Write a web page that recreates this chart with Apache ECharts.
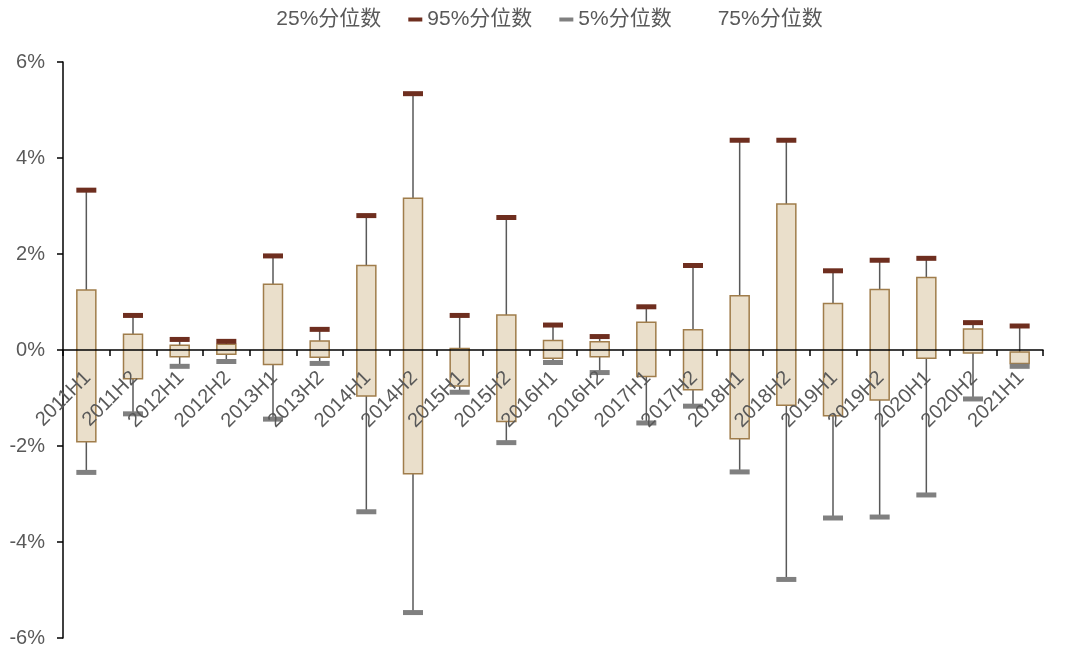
<!DOCTYPE html>
<html>
<head>
<meta charset="utf-8">
<script src="https://cdn.jsdelivr.net/npm/echarts@6/dist/echarts.min.js"></script>
<style>
html,body{margin:0;padding:0;background:#fff;}
#chart{width:1080px;height:659px;}
</style>
</head>
<body>
<div id="chart"></div>
<script>
const categories = ['2011H1','2011H2','2012H1','2012H2','2013H1','2013H2','2014H1','2014H2','2015H1','2015H2','2016H1','2016H2','2017H1','2017H2','2018H1','2018H2','2019H1','2019H2','2020H1','2020H2','2021H1'];
const p25 = [-1.91,-0.60,-0.14,-0.09,-0.30,-0.15,-0.96,-2.58,-0.75,-1.49,-0.17,-0.14,-0.55,-0.83,-1.85,-1.15,-1.37,-1.04,-0.17,-0.06,-0.28];
const p95 = [3.33,0.72,0.22,0.18,1.96,0.43,2.80,5.34,0.72,2.76,0.52,0.28,0.90,1.76,4.37,4.37,1.65,1.87,1.91,0.57,0.50];
const p5  = [-2.55,-1.33,-0.34,-0.24,-1.44,-0.28,-3.37,-5.47,-0.88,-1.93,-0.26,-0.47,-1.52,-1.17,-2.54,-4.78,-3.50,-3.48,-3.02,-1.02,-0.34];
const p75 = [1.25,0.33,0.10,0.12,1.37,0.19,1.76,3.16,0.03,0.73,0.20,0.17,0.58,0.42,1.13,3.04,0.97,1.26,1.51,0.44,-0.04];
const yTicks = {min:-6, max:6, interval:2};

const txt = '#595959';
const chart = echarts.init(document.getElementById('chart'));

const whiskerData = categories.map((c,i)=>[i, p5[i], p95[i]]);
const boxData = categories.map((c,i)=>[i, p25[i], p75[i]]);

chart.setOption({
  animation:false,
  textStyle:{fontFamily:'Arial, "Liberation Sans", "Noto Sans CJK SC", sans-serif'},
  legend:{
    top:4, left:'center', itemGap:27, itemWidth:14, itemHeight:4,
    textStyle:{color:txt, fontSize:21},
    data:[
      {name:'25%分位数', icon:'rect', itemStyle:{opacity:0}},
      {name:'95%分位数', icon:'rect'},
      {name:'5%分位数', icon:'rect'},
      {name:'75%分位数', icon:'rect', itemStyle:{opacity:0}}
    ]
  },
  grid:{left:63, top:62, width:980, height:576, outerBoundsMode:'none', containLabel:false},
  xAxis:{
    type:'category', data:categories,
    offset:-288,
    axisLine:{onZero:false, lineStyle:{color:'#000', width:1.5}},
    axisTick:{show:true, length:6, lineStyle:{color:'#000', width:1.5}},
    axisLabel:{rotate:45, interval:0, color:txt, fontSize:20, margin:12, align:'right', verticalAlign:'top', padding:[0,8,0,0], hideOverlap:false},
    z:5
  },
  yAxis:{
    type:'value', min:yTicks.min, max:yTicks.max, interval:yTicks.interval,
    axisLine:{show:true, lineStyle:{color:'#000', width:1.5}},
    axisTick:{show:true, length:6, lineStyle:{color:'#000', width:1.5}},
    splitLine:{show:false},
    axisLabel:{color:txt, fontSize:20, formatter:'{value}%', margin:18}
  },
  series:[
    {
      name:'whisker', type:'custom', data:whiskerData, z:1,
      encode:{x:0, y:[1,2]},
      renderItem:function(params, api){
        const a = api.coord([api.value(0), api.value(1)]);
        const b = api.coord([api.value(0), api.value(2)]);
        return {type:'line', shape:{x1:a[0], y1:a[1], x2:b[0], y2:b[1]}, style:{stroke:'#595959', lineWidth:1.5}};
      }
    },
    {
      name:'25%分位数', type:'custom', data:boxData, z:2,
      encode:{x:0, y:[1,2]},
      itemStyle:{color:'#EADFCB'},
      renderItem:function(params, api){
        const a = api.coord([api.value(0), api.value(1)]);
        const b = api.coord([api.value(0), api.value(2)]);
        const w = 19;
        const y0 = Math.min(a[1], b[1]), h = Math.abs(a[1]-b[1]);
        return {type:'rect', shape:{x:a[0]-w/2, y:y0, width:w, height:h}, style:{fill:'#EADFCB', stroke:'#A07D4B', lineWidth:1.5}};
      }
    },
    {
      name:'75%分位数', type:'line', data:p75, symbol:'none', lineStyle:{opacity:0}, itemStyle:{color:'#EADFCB'}, z:0
    },
    {
      name:'95%分位数', type:'scatter', data:p95, symbol:'rect', symbolSize:[20,5], itemStyle:{color:'#6E2E1F', opacity:1}, z:3
    },
    {
      name:'5%分位数', type:'scatter', data:p5, symbol:'rect', symbolSize:[20,5], itemStyle:{color:'#808080', opacity:1}, z:3
    }
  ]
});
</script>
</body>
</html>
